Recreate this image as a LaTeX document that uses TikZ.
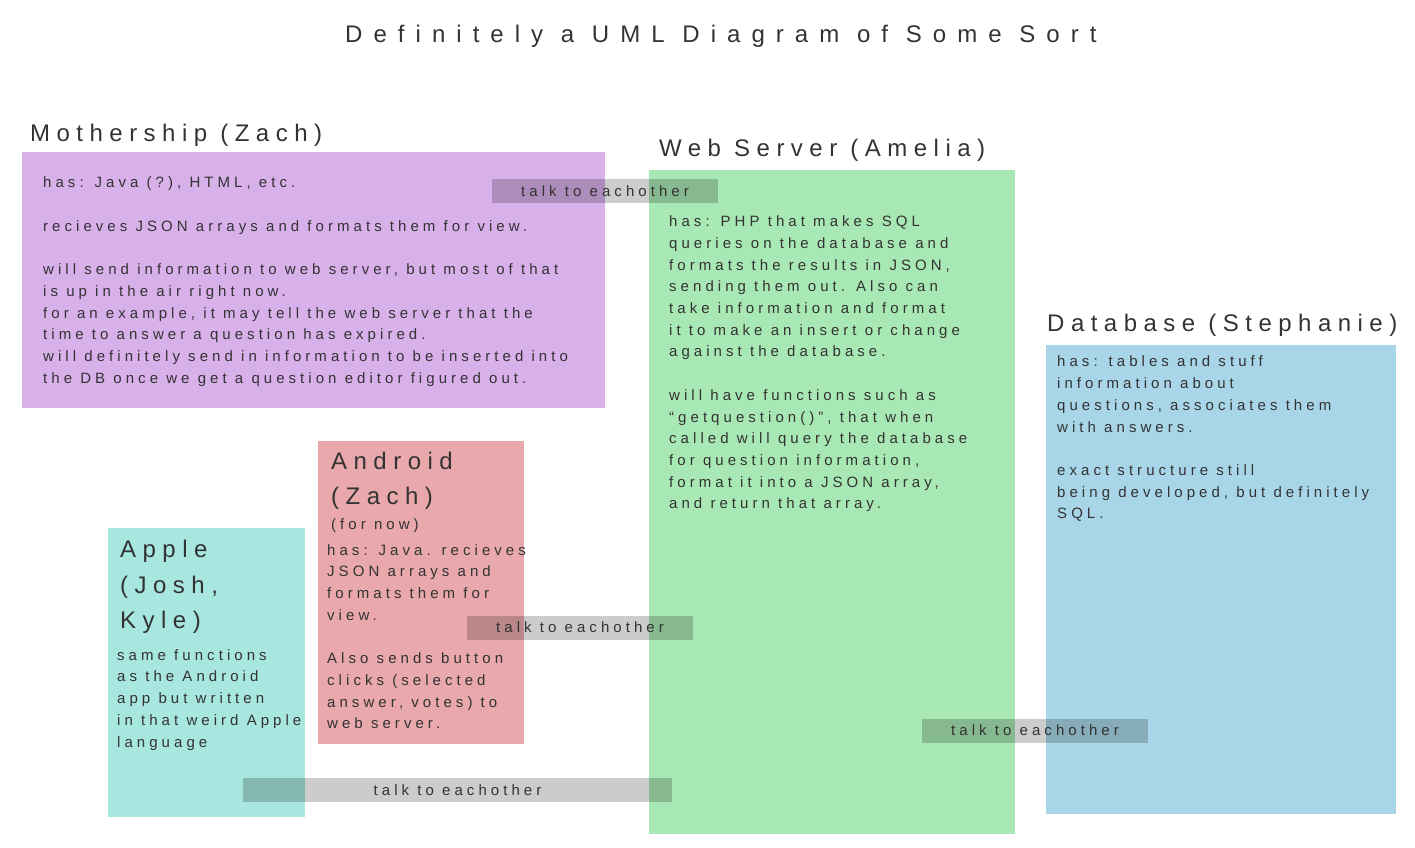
\documentclass[tikz,border=0pt]{standalone}
\usepackage{fontspec}
\setmainfont{Liberation Sans}
\newfontfamily\spfont[LetterSpace=27]{Liberation Sans}
\newfontfamily\ttlfont[LetterSpace=46]{Liberation Sans}
\definecolor{txt}{HTML}{333333}
\definecolor{cpurple}{HTML}{D8B0EA}
\definecolor{cgreen}{HTML}{A8E8B4}
\definecolor{cblue}{HTML}{A8D6E8}
\definecolor{cpink}{HTML}{E8A8AC}
\definecolor{cteal}{HTML}{A8E6E0}
\newcommand{\bstrut}{\rule{0pt}{12pt}}
\newcommand{\hstrut}{\rule{0pt}{19pt}}
\begin{document}
\begin{tikzpicture}[x=1pt,y=-1pt,
  area/.style={draw=none, rectangle, inner sep=0pt, anchor=north west},
  body/.style={anchor=north west, inner sep=0pt, align=left, text=txt, font=\spfont\fontsize{15}{21.7}\selectfont},
  head/.style={anchor=north west, inner sep=0pt, align=left, text=txt, font=\spfont\fontsize{24}{35.5}\selectfont},
  headline/.style={anchor=base west, inner sep=0pt, text=txt, font=\spfont\fontsize{24}{30}\selectfont},
  talk/.style={fill=black, fill opacity=0.2, text opacity=1, text=txt, inner sep=0pt, minimum height=24pt, font=\spfont\fontsize{15}{18}\selectfont}
]
\useasboundingbox (0,0) rectangle (1415,847);

% areas
\node[area, fill=cpurple, minimum width=583pt, minimum height=256pt] (mship) at (22,152) {};
\node[area, fill=cgreen, minimum width=366pt, minimum height=664pt] (web) at (649,170) {};
\node[area, fill=cblue, minimum width=350pt, minimum height=469pt] (db) at (1046,345) {};
\node[area, fill=cpink, minimum width=206pt, minimum height=303pt] (android) at (318,441) {};
\node[area, fill=cteal, minimum width=197pt, minimum height=289pt] (apple) at (108,528) {};

% title
\node[anchor=base west, inner sep=0pt, text=txt, font=\ttlfont\fontsize{24}{30}\selectfont] (title) at (345,42.3) {Definitely a UML Diagram of Some Sort};

% headings
\node[headline] (mshiph) at (30,141.7) {Mothership (Zach)};
\node[headline] (webh) at (659,156) {Web Server (Amelia)};
\node[headline] (dbh) at (1047,331) {Database (Stephanie)};
\node[head] (androidh) at (331,450) {\hstrut Android\\(Zach)};
\node[anchor=base west, inner sep=0pt, text=txt, font=\spfont\fontsize{15}{18}\selectfont] (androidn) at (331,529) {(for now)};
\node[head] (appleh) at (120,538.7) {\hstrut Apple\\(Josh,\\Kyle)};

% bodies
\node[body] (mshipt) at (43,175.7) {\bstrut has: Java (?), HTML, etc.\\[21.7pt]
recieves JSON arrays and formats them for view.\\[21.7pt]
will send information to web server, but most of that\\
is up in the air right now.\\
for an example, it may tell the web server that the\\
time to answer a question has expired.\\
will definitely send in information to be inserted into\\
the DB once we get a question editor figured out.};

\node[body] (webt) at (669,214.5) {\bstrut has: PHP that makes SQL\\
queries on the database and\\
formats the results in JSON,\\
sending them out. Also can\\
take information and format\\
it to make an insert or change\\
against the database.\\[21.7pt]
will have functions such as\\
“getquestion()”, that when\\
called will query the database\\
for question information,\\
format it into a JSON array,\\
and return that array.};

\node[body] (dbt) at (1057,354.7) {\bstrut has: tables and stuff\\
information about\\
questions, associates them\\
with answers.\\[21.7pt]
exact structure still\\
being developed, but definitely\\
SQL.};

\node[body] (androidt) at (327,543) {\bstrut has: Java. recieves\\
JSON arrays and\\
formats them for\\
view.\\[21.7pt]
Also sends button\\
clicks (selected\\
answer, votes) to\\
web server.};

\node[body] (applet) at (117,648) {\bstrut same functions\\
as the Android\\
app but written\\
in that weird Apple\\
language};

% talk bars
\node[talk, minimum width=226pt] (talk1) at (605,191) {talk to eachother};
\node[talk, minimum width=226pt] (talk2) at (580,627.5) {talk to eachother};
\node[talk, minimum width=226pt] (talk3) at (1035,730.5) {talk to eachother};
\node[talk, minimum width=429pt] (talk4) at (457.5,790) {talk to eachother};
\end{tikzpicture}
\end{document}
